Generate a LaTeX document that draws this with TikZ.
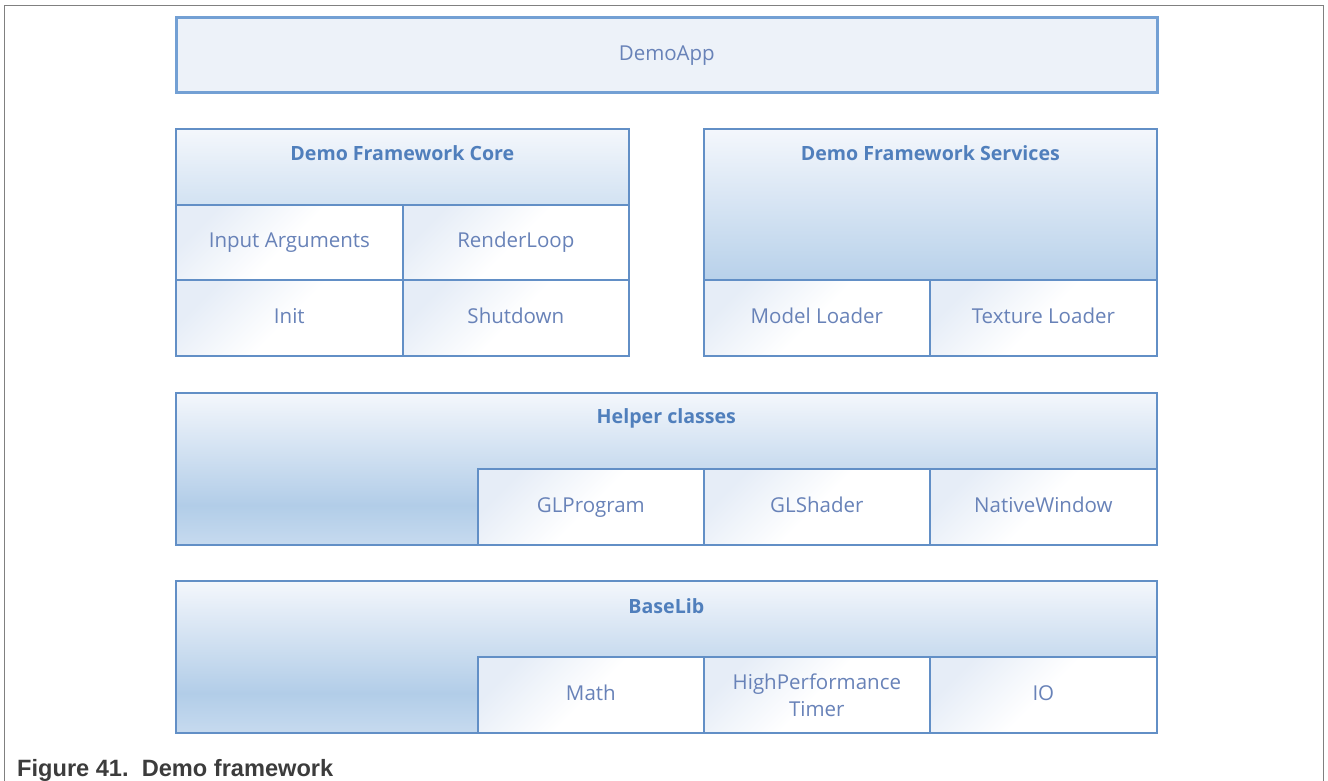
\documentclass[tikz,border=0pt]{standalone}
\usepackage{fontspec}
\setmainfont{Open Sans}
\newfontfamily\capfont{Liberation Sans}
\definecolor{bordc}{RGB}{98,143,198}
\definecolor{appbord}{RGB}{115,160,212}
\definecolor{appfill}{RGB}{237,242,249}
\definecolor{headtxt}{RGB}{80,127,188}
\definecolor{celltxt}{RGB}{104,130,184}
\definecolor{glone}{RGB}{244,247,252}
\definecolor{gltwo}{RGB}{178,205,232}
\definecolor{glthree}{RGB}{198,218,239}
\definecolor{corebot}{RGB}{210,226,242}
\definecolor{svcbot}{RGB}{184,209,234}
\definecolor{celltint}{RGB}{230,237,247}
\definecolor{framec}{RGB}{128,128,128}
\definecolor{captxt}{RGB}{60,60,60}
\pgfdeclareverticalshading{layershade}{100bp}{color(0bp)=(glthree); color(25bp)=(glthree); color(38bp)=(gltwo); color(75bp)=(glone); color(100bp)=(glone)}
\tikzset{
  boxbase/.style={draw=bordc, line width=1.7pt, inner sep=0pt, anchor=north west},
  layerbox/.style={boxbase, shading=layershade},
  cellbase/.style={boxbase, top color=celltint, bottom color=white, middle color=white, shading angle=45, text=celltxt, font=\fontsize{20.5}{27}\selectfont, align=center},
  cellbox/.style={cellbase, text height=15pt, text depth=4pt},
  headtext/.style={text=headtxt, font=\bfseries\fontsize{19.6}{23}\selectfont, inner sep=0pt},
}
\begin{document}
\begin{tikzpicture}[x=1pt,y=-1pt]
\useasboundingbox (0,0) rectangle (1328,781);
% outer frame
\draw[framec, line width=1.3pt] (4.5,790) -- (4.5,5.5) -- (1323.5,5.5) -- (1323.5,790);
% DemoApp
\node[draw=appbord, line width=2.6pt, fill=appfill, inner sep=0pt, anchor=north west,
      minimum width=981pt, minimum height=75pt, text=celltxt, font=\fontsize{20.5}{23}\selectfont,
      text height=15pt, text depth=4pt] (app) at (175,16) {DemoApp};
% Core
\node[boxbase, top color=glone, bottom color=corebot, minimum width=453pt, minimum height=76pt] (corehead) at (175,128) {};
\node[headtext] (coretitle) at ([yshift=-25pt]corehead.north) {Demo Framework Core};
\node[cellbox, minimum width=227pt, minimum height=75pt] (args) at (175,204) {Input Arguments};
\node[cellbox, minimum width=226pt, minimum height=75pt] (loop) at (402,204) {RenderLoop};
\node[cellbox, minimum width=227pt, minimum height=76pt] (init) at (175,279) {Init};
\node[cellbox, minimum width=226pt, minimum height=76pt] (shut) at (402,279) {Shutdown};
% Services
\node[boxbase, top color=glone, bottom color=svcbot, minimum width=453pt, minimum height=151pt] (svchead) at (703,128) {};
\node[headtext] (svctitle) at ([yshift=-25pt]svchead.north) {Demo Framework Services};
\node[cellbox, minimum width=226pt, minimum height=76pt] (model) at (703,279) {Model Loader};
\node[cellbox, minimum width=227pt, minimum height=76pt] (tex) at (929,279) {Texture Loader};
% Helper classes
\node[layerbox, minimum width=981pt, minimum height=152pt] (helper) at (175,392) {};
\node[headtext] (helpertitle) at ([yshift=-26pt]helper.north) {Helper classes};
\node[cellbox, minimum width=226pt, minimum height=76pt] (glprog) at (477,468) {GLProgram};
\node[cellbox, minimum width=226pt, minimum height=76pt] (glshader) at (703,468) {GLShader};
\node[cellbox, minimum width=227pt, minimum height=76pt] (natwin) at (929,468) {NativeWindow};
% BaseLib
\node[layerbox, minimum width=981pt, minimum height=152pt] (baselib) at (175,580) {};
\node[headtext] (basetitle) at ([yshift=-26pt]baselib.north) {BaseLib};
\node[cellbox, minimum width=226pt, minimum height=76pt] (math) at (477,656) {Math};
\node[cellbase, minimum width=226pt, minimum height=76pt] (hpt) at (703,656) {HighPerformance\\Timer};
\node[cellbox, minimum width=227pt, minimum height=76pt] (io) at (929,656) {IO};
% caption
\node[anchor=base west, inner sep=0pt, text=captxt, font=\capfont\bfseries\fontsize{23.6}{27}\selectfont] (caption) at (17,776) {Figure 41.\ \ Demo framework};
\end{tikzpicture}
\end{document}
